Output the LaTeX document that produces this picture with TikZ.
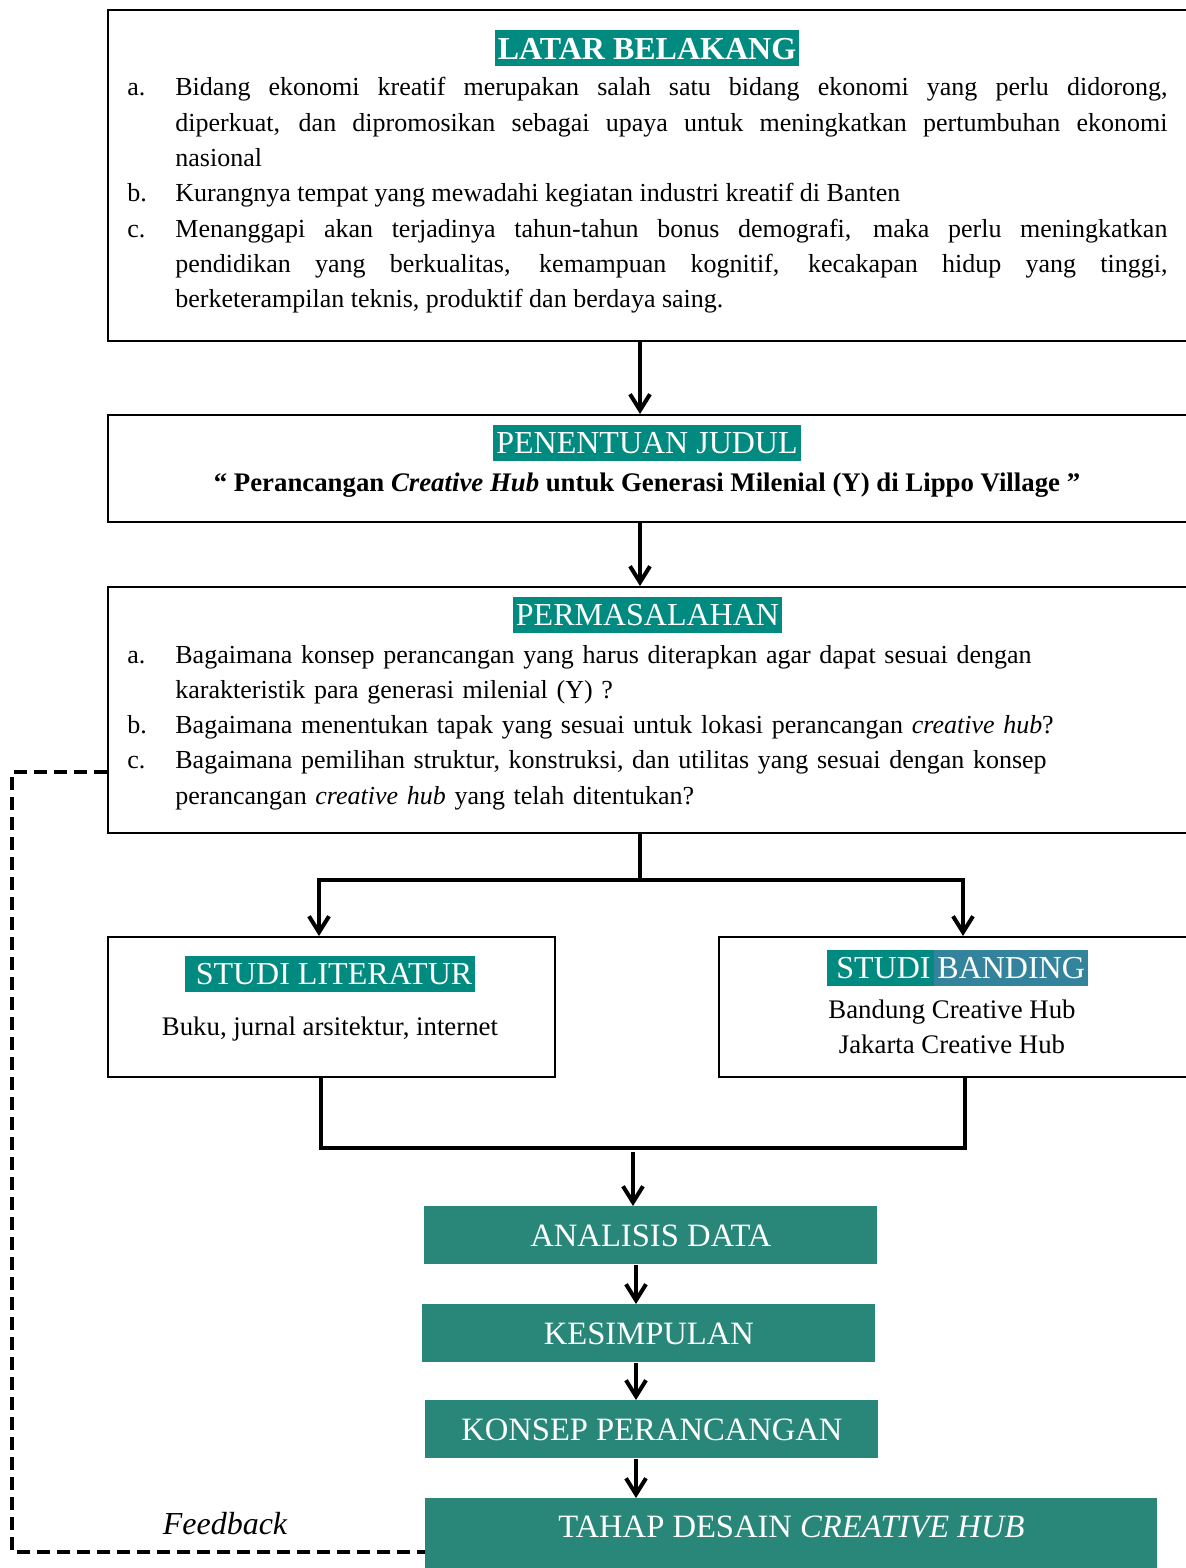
\documentclass[tikz,border=0pt]{standalone}
\usepackage{fontspec}
\setmainfont{Liberation Serif}
\usetikzlibrary{arrows.meta, positioning}
\definecolor{judulteal}{RGB}{0,138,128}
\definecolor{boxteal}{RGB}{40,135,121}
\definecolor{bandblue}{RGB}{52,131,156}

\begin{document}
\begin{tikzpicture}[x=0.5pt,y=-0.5pt,
        frame/.style={draw, line width=1pt, anchor=north west, inner sep=0pt},
        heading/.style={fill=judulteal, text=white, font=\fontsize{16}{16}\selectfont,
            text height=10.6pt, text depth=0pt, minimum height=18pt, inner ysep=0pt, inner xsep=1.5pt},
        body/.style={font=\fontsize{13}{17.65}\selectfont, inner sep=0pt},
        sub/.style={font=\fontsize{13.4}{17.65}\selectfont, inner sep=0pt},
        stepbox/.style={fill=boxteal, text=white, anchor=north west, minimum width=226.5pt,
            minimum height=29pt, inner sep=0pt, text height=10.6pt, text depth=0pt,
            font=\fontsize{16.3}{16}\selectfont},
        flow/.style={line width=2pt, -{Straight Barb[length=8pt,width=10pt]}},
        joint/.style={line width=2pt},
        fback/.style={line width=2pt, dash pattern=on 6.5pt off 3.5pt}]
        \useasboundingbox (0,0) rectangle (1186,1568);
        \clip (0,0) rectangle (1186,1568);
        \fill[white] (0,0) rectangle (1186,1568);

        % kotak utama
        \node[frame, minimum width=540.5pt, minimum height=165.5pt] (latar)     at (107,9)   {};
        \node[frame, minimum width=540.5pt, minimum height=53.5pt]  (judul)     at (107,414) {};
        \node[frame, minimum width=540.5pt, minimum height=123pt]   (masalah)   at (107,586) {};
        \node[frame, minimum width=223.5pt, minimum height=70pt]    (literatur) at (107,936) {};
        \node[frame, minimum width=235pt,   minimum height=70pt]    (banding)   at (718,936) {};

        % latar belakang
        \node[heading] (latarjudul) at (647,48.5) {\textbf{LATAR BELAKANG}};
        \node[body, anchor=base west, text width=520pt, align=justify] (latarisi) at (127,96) {%
            \hyphenpenalty=10000\exhyphenpenalty=10000\parindent=0pt
            \hangindent=24pt\hangafter=1\makebox[24pt][l]{a.}Bidang ekonomi kreatif merupakan salah satu bidang ekonomi yang perlu didorong,\linebreak diperkuat, dan dipromosikan sebagai upaya untuk meningkatkan pertumbuhan ekonomi\linebreak nasional\par
            \hangindent=24pt\hangafter=1\makebox[24pt][l]{b.}Kurangnya tempat yang mewadahi kegiatan industri kreatif di Banten\par
            \hangindent=24pt\hangafter=1\makebox[24pt][l]{c.}Menanggapi akan terjadinya tahun-tahun bonus demografi, maka perlu meningkatkan\linebreak pendidikan yang berkualitas, kemampuan kognitif, kecakapan hidup yang tinggi,\linebreak berketerampilan teknis, produktif dan berdaya saing.\par};

        % penentuan judul
        \node[heading] (judulhead) at (647,443) {PENENTUAN JUDUL};
        \node[sub, anchor=base] (judulisi) at (647,491)
            {\textbf{“ Perancangan \textit{Creative Hub} untuk Generasi Milenial (Y) di Lippo Village ”}};

        % permasalahan
        \node[heading] (masalahhead) at (647.5,615) {PERMASALAHAN};
        \node[body, anchor=base west, text width=520pt] (masalahisi) at (127,663) {%
            \raggedright\hyphenpenalty=10000\parindent=0pt
            \hangindent=24pt\hangafter=1\makebox[24pt][l]{a.}Bagaimana konsep perancangan yang harus diterapkan agar dapat sesuai dengan\newline karakteristik para generasi milenial (Y) ?\par
            \hangindent=24pt\hangafter=1\makebox[24pt][l]{b.}Bagaimana menentukan tapak yang sesuai untuk lokasi perancangan \textit{creative hub}?\par
            \hangindent=24pt\hangafter=1\makebox[24pt][l]{c.}Bagaimana pemilihan struktur, konstruksi, dan utilitas yang sesuai dengan konsep\newline perancangan \textit{creative hub} yang telah ditentukan?\par};

        % studi literatur dan studi banding
        \node[heading] (literaturhead) at (330,974) {\hspace{4pt}STUDI LITERATUR};
        \node[sub, anchor=base] (literaturisi) at (330,1035) {Buku, jurnal arsitektur, internet};
        \node[heading, anchor=east] (bandinghead1) at (934,968) {\hspace{3pt}STUDI\ };
        \node[heading, fill=bandblue, right=0pt of bandinghead1] (bandinghead2) {BANDING};
        \node[sub, align=center] (bandingisi) at (952,1027) {Bandung Creative Hub\\Jakarta Creative Hub};

        % tahapan
        \node[stepbox] (analisis) at (424,1206) {ANALISIS DATA};
        \node[stepbox] (simpul)   at (422,1304) {KESIMPULAN};
        \node[stepbox] (konsep)   at (425,1400) {KONSEP PERANCANGAN};
        \node[stepbox, minimum width=366pt, minimum height=0pt, text height=19.5pt, text depth=21.5pt]
            (tahap) at (425,1498) {TAHAP DESAIN \textit{CREATIVE HUB}};
        \node[font=\fontsize{16}{16}\selectfont\itshape] (fbtext) at (225,1524) {Feedback};

        % panah
        \coordinate (poros) at (640,0);
        \coordinate (cabang) at (640,880);
        \coordinate (gabung) at (633,1148);
        \coordinate (tengah) at (636,0);
        \coordinate (fbatas) at (12,772);
        \coordinate (fbbawah) at (12,1552);

        \draw[flow] (latar.south -| poros) -- (judul.north -| poros);
        \draw[flow] (judul.south -| poros) -- (masalah.north -| poros);
        \draw[joint] (masalah.south -| cabang) -- (cabang);
        \draw[flow] (cabang) -| ([xshift=-6.25pt]literatur.north);
        \draw[flow] (cabang) -| ([xshift=4.5pt]banding.north);
        \draw[joint] ([xshift=-5.25pt]literatur.south) |- (gabung) -| ([xshift=5.5pt]banding.south);
        \draw[flow] ([yshift=-2pt]gabung) -- (analisis.north -| gabung);
        \draw[flow] (analisis.south -| tengah) -- (simpul.north -| tengah);
        \draw[flow] (simpul.south -| tengah) -- (konsep.north -| tengah);
        \draw[flow] (konsep.south -| tengah) -- (tahap.north -| tengah);
        \draw[fback] (masalah.west |- fbatas) -- (fbatas) -- (fbbawah) -- (tahap.west |- fbbawah);
    \end{tikzpicture}
\end{document}
